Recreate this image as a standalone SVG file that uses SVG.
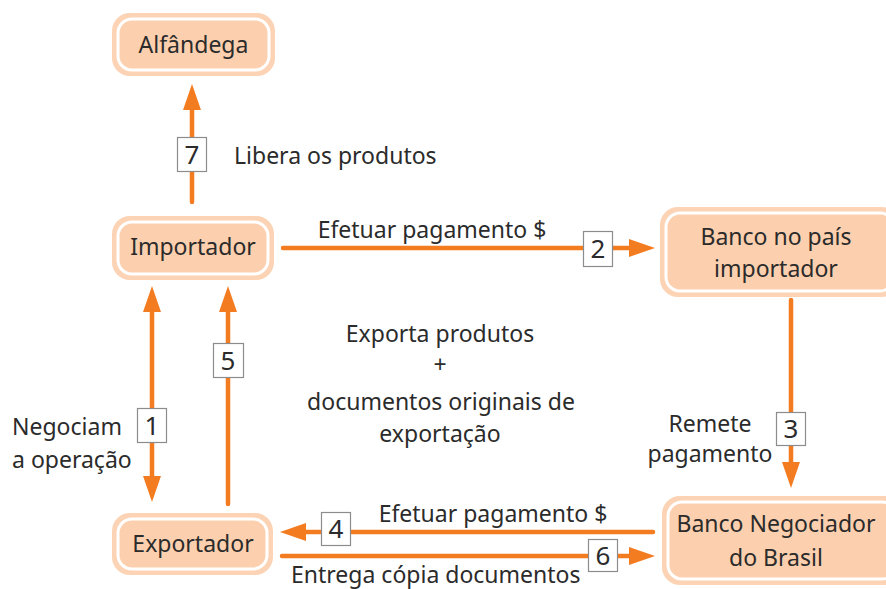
<svg xmlns="http://www.w3.org/2000/svg" width="886" height="589" viewBox="0 0 886 589">
<style>
.o{fill:#FCD3B4}
.i{fill:#FCD0AE;stroke:#FFFFFF;stroke-width:3}
text{font-family:"Noto Sans","Open Sans","Liberation Sans",sans-serif;font-size:23px;fill:#2B2B2B}
.c{text-anchor:middle}
.d{font-size:26px}
.ln{stroke:#F47C20;stroke-width:4.5;fill:none;stroke-linecap:round}
.hd{fill:#F47C20}
.nb{fill:#FFFFFF;stroke:#8C8C8C;stroke-width:1.2}
</style>
<rect width="886" height="589" fill="#FFFFFF"/>
<g id="alfandega">
<rect class="o" x="112" y="13" width="163" height="63" rx="18"/>
<rect class="i" x="118" y="19" width="151" height="51" rx="14"/>
<text class="c" x="193.5" y="53">Alfândega</text>
</g>
<g id="importador">
<rect class="o" x="112" y="216" width="162" height="64" rx="18"/>
<rect class="i" x="118" y="222" width="150" height="52" rx="14"/>
<text class="c" x="193" y="255">Importador</text>
</g>
<g id="exportador">
<rect class="o" x="112" y="513" width="161" height="62" rx="18"/>
<rect class="i" x="118" y="519" width="149" height="50" rx="14"/>
<text class="c" x="193" y="552">Exportador</text>
</g>
<g id="banco-importador">
<rect class="o" x="660" y="207" width="240" height="90" rx="18"/>
<rect class="i" x="666" y="213" width="228" height="78" rx="14"/>
<text class="c" x="776" y="245">Banco no país</text>
<text class="c" x="776" y="277">importador</text>
</g>
<g id="banco-negociador">
<rect class="o" x="662" y="496" width="240" height="89" rx="18"/>
<rect class="i" x="668" y="502" width="228" height="77" rx="14"/>
<text class="c" x="776" y="532">Banco Negociador</text>
<text class="c" x="776" y="566">do Brasil</text>
</g>
<g id="connectors">
<!-- 7 -->
<line class="ln" x1="192" y1="202" x2="192" y2="105"/>
<polygon class="hd" points="192,84 201,110 183,110"/>
<rect class="nb" x="177.5" y="137.5" width="29" height="34"/>
<text class="c d" x="192" y="164">7</text>
<text x="234" y="164">Libera os produtos</text>
<!-- 2 -->
<line class="ln" x1="283" y1="248" x2="632" y2="248"/>
<polygon class="hd" points="655,248 629,239 629,257"/>
<rect class="nb" x="583.5" y="231.5" width="29" height="35"/>
<text class="c d" x="598" y="258">2</text>
<text class="c" x="432" y="238">Efetuar pagamento $</text>
<!-- 3 -->
<line class="ln" x1="791" y1="300" x2="791" y2="466"/>
<polygon class="hd" points="791,488 782,462 800,462"/>
<rect class="nb" x="776.5" y="412.5" width="29" height="33"/>
<text class="c d" x="791" y="438">3</text>
<text class="c" x="710" y="432">Remete</text>
<text class="c" x="710" y="462">pagamento</text>
<!-- 4 -->
<line class="ln" x1="653" y1="532" x2="302" y2="532"/>
<polygon class="hd" points="280,532 306,523 306,541"/>
<rect class="nb" x="321.5" y="512.5" width="29" height="33"/>
<text class="c d" x="336" y="538">4</text>
<text class="c" x="493" y="522">Efetuar pagamento $</text>
<!-- 6 -->
<line class="ln" x1="282" y1="556" x2="632" y2="556"/>
<polygon class="hd" points="655,556 629,547 629,565"/>
<rect class="nb" x="588.5" y="539.5" width="29" height="32"/>
<text class="c d" x="603" y="565">6</text>
<text x="291" y="583">Entrega cópia documentos</text>
<!-- 1 -->
<line class="ln" x1="152" y1="308" x2="152" y2="480"/>
<polygon class="hd" points="152,286 161,312 143,312"/>
<polygon class="hd" points="152,502 143,476 161,476"/>
<rect class="nb" x="137.5" y="408.5" width="29" height="34"/>
<text class="c d" x="152" y="435">1</text>
<text x="12" y="435">Negociam</text>
<text x="12" y="468">a operação</text>
<!-- 5 -->
<line class="ln" x1="228" y1="504" x2="228" y2="308"/>
<polygon class="hd" points="228,286 237,312 219,312"/>
<rect class="nb" x="213.5" y="343.5" width="30" height="34"/>
<text class="c d" x="228" y="370">5</text>
</g>
<g id="center-text">
<text class="c" x="440" y="342">Exporta produtos</text>
<text class="c" x="440" y="373">+</text>
<text class="c" x="441" y="410">documentos originais de</text>
<text class="c" x="440" y="442">exportação</text>
</g>
</svg>
